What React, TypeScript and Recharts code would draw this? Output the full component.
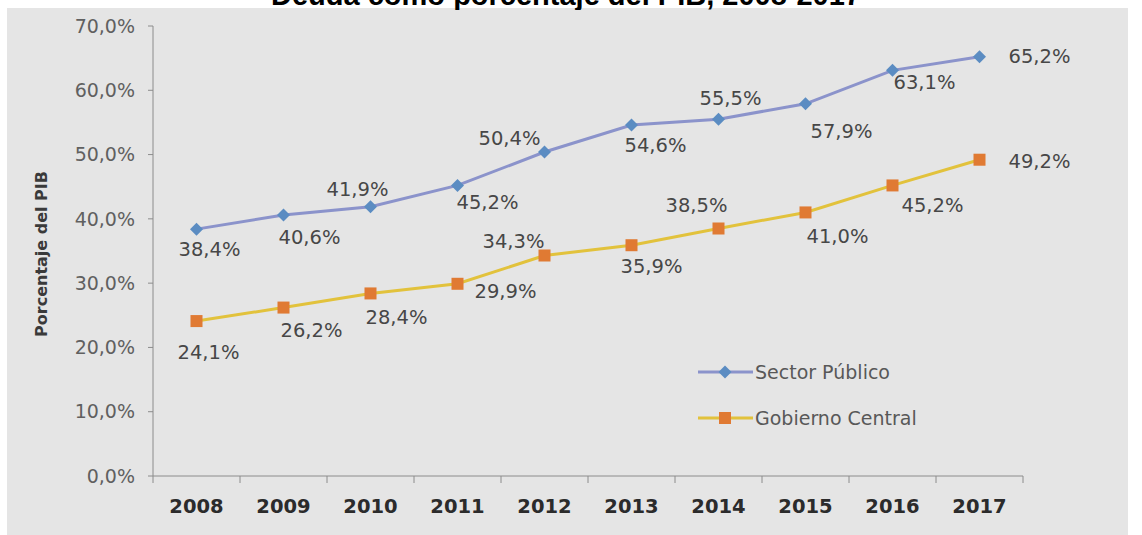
import React from 'react';
import { LineChart, Line, XAxis, YAxis, Legend, LabelList, Label } from 'recharts';

const years = ['2008', '2009', '2010', '2011', '2012', '2013', '2014', '2015', '2016', '2017'];
const sectorPublico = [38.4, 40.6, 41.9, 45.2, 50.4, 54.6, 55.5, 57.9, 63.1, 65.2];
const gobiernoCentral = [24.1, 26.2, 28.4, 29.9, 34.3, 35.9, 38.5, 41.0, 45.2, 49.2];
const yTicks = [0, 10, 20, 30, 40, 50, 60, 70];

// where each data label sits relative to its point (dx, dy)
const spLabelPos = [[13, 20], [26, 22], [-13, -17], [30, 17], [-35, -14], [24, 20], [12, -21], [36, 28], [32, 12], [60, 0]];
const gcLabelPos = [[12, 31], [28, 23], [26, 24], [48, 8], [-31, -14], [20, 21], [-22, -23], [32, 24], [40, 20], [60, 2]];

const data = years.map((year, i) => ({
  year,
  sp: sectorPublico[i],
  gc: gobiernoCentral[i],
}));

const SP_LINE = '#8b93cb';
const SP_DOT = '#5b8cc2';
const GC_LINE = '#e2c23c';
const GC_DOT = '#e07a33';
const AXIS = '#8c8c8c';
const FONT = 'DejaVu Sans, sans-serif';

const fmt = (v: number) => v.toFixed(1).replace('.', ',') + '%';

const Diamond = (props: any) => {
  const { cx, cy } = props;
  if (cx == null || cy == null) return null;
  const r = 6.5;
  return (
    <polygon
      points={`${cx},${cy - r} ${cx + r},${cy} ${cx},${cy + r} ${cx - r},${cy}`}
      fill={SP_DOT}
    />
  );
};

const Square = (props: any) => {
  const { cx, cy } = props;
  if (cx == null || cy == null) return null;
  const s = 12;
  return <rect x={cx - s / 2} y={cy - s / 2} width={s} height={s} fill={GC_DOT} />;
};

const makeLabel = (pos: number[][]) => (props: any) => {
  const { x, y, value, index } = props;
  const [dx, dy] = pos[index] || [0, 0];
  return (
    <text
      x={x + dx}
      y={y + dy}
      textAnchor="middle"
      dominantBaseline="central"
      fontFamily={FONT}
      fontSize={19.5}
      fill="#474747"
    >
      {fmt(value)}
    </text>
  );
};

const BAND = 87;

const YearTick = (props: any) => {
  const { x, y, payload, index } = props;
  return (
    <g>
      <line x1={x - BAND / 2} y1={y} x2={x - BAND / 2} y2={y + 7} stroke={AXIS} />
      {index === years.length - 1 && (
        <line x1={x + BAND / 2} y1={y} x2={x + BAND / 2} y2={y + 7} stroke={AXIS} />
      )}
      <text
        x={x}
        y={y + 37}
        textAnchor="middle"
        fontFamily={FONT}
        fontWeight="bold"
        fontSize={19.5}
        fill="#2b2b2b"
      >
        {payload.value}
      </text>
    </g>
  );
};

const LegendContent = () => {
  const items = [
    { name: 'Sector Público', color: SP_LINE, marker: 'diamond' },
    { name: 'Gobierno Central', color: GC_LINE, marker: 'square' },
  ];
  return (
    <div>
      {items.map((it) => (
        <div key={it.name} style={{ display: 'flex', alignItems: 'center', height: 46 }}>
          <svg width={57} height={20}>
            <line x1={0} y1={10} x2={55} y2={10} stroke={it.color} strokeWidth={3} />
            {it.marker === 'diamond' ? (
              <polygon points="27,3.5 33.5,10 27,16.5 20.5,10" fill={SP_DOT} />
            ) : (
              <rect x={21} y={4} width={12} height={12} fill={GC_DOT} />
            )}
          </svg>
          <span style={{ fontFamily: FONT, fontSize: 19, color: '#585858' }}>{it.name}</span>
        </div>
      ))}
    </div>
  );
};

export default function App() {
  return (
    <div style={{ position: 'absolute', left: 0, top: 0, width: 1142, height: 535, background: '#ffffff' }}>
      <div style={{ position: 'absolute', left: 7, top: 8, width: 1121, height: 527, background: '#e5e5e5' }} />
      <svg style={{ position: 'absolute', left: 0, top: 0 }} width={1142} height={10}>
        <text
          x={566}
          y={5}
          textAnchor="middle"
          fontFamily="Liberation Sans, Arial, sans-serif"
          fontWeight="bold"
          fontSize={29}
          fill="#000"
        >
          Deuda como porcentaje del PIB, 2008-2017
        </text>
      </svg>
      <div style={{ position: 'absolute', left: 0, top: 0 }}>
        <LineChart width={1142} height={535} data={data} margin={{ top: 26, right: 119, left: 0, bottom: 0 }}>
          <XAxis
            dataKey="year"
            height={59}
            padding={{ left: BAND / 2, right: BAND / 2 }}
            axisLine={{ stroke: AXIS }}
            tickLine={false}
            tickSize={0}
            tickMargin={0}
            interval={0}
            tick={<YearTick />}
          />
          <YAxis
            width={153}
            domain={[0, 70]}
            ticks={yTicks}
            interval={0}
            tickFormatter={fmt}
            axisLine={{ stroke: AXIS }}
            tickLine={{ stroke: AXIS }}
            tickSize={5}
            tickMargin={13}
            tick={{ fontFamily: FONT, fontSize: 19, fill: '#606060' }}
          >
            <Label
              content={(p: any) => {
                const vb = p.viewBox || { x: 0, y: 26, width: 153, height: 450 };
                const cx = vb.x + 41;
                const cy = vb.y + vb.height / 2 + 3;
                return (
                  <text
                    x={cx}
                    y={cy}
                    transform={`rotate(-90 ${cx} ${cy})`}
                    textAnchor="middle"
                    dominantBaseline="central"
                    fontFamily={FONT}
                    fontWeight="bold"
                    fontSize={16}
                    fill="#3a3a3a"
                  >
                    Porcentaje del PIB
                  </text>
                );
              }}
            />
          </YAxis>
          <Legend
            layout="vertical"
            align="center"
            verticalAlign="middle"
            content={<LegendContent />}
            wrapperStyle={{ position: 'absolute', left: 698, top: 349, width: 320 }}
          />
          <Line
            name="Sector Público"
            dataKey="sp"
            stroke={SP_LINE}
            strokeWidth={3}
            dot={<Diamond />}
            activeDot={false}
            isAnimationActive={false}
          >
            <LabelList dataKey="sp" content={makeLabel(spLabelPos)} />
          </Line>
          <Line
            name="Gobierno Central"
            dataKey="gc"
            stroke={GC_LINE}
            strokeWidth={3}
            dot={<Square />}
            activeDot={false}
            isAnimationActive={false}
          >
            <LabelList dataKey="gc" content={makeLabel(gcLabelPos)} />
          </Line>
        </LineChart>
      </div>
    </div>
  );
}
